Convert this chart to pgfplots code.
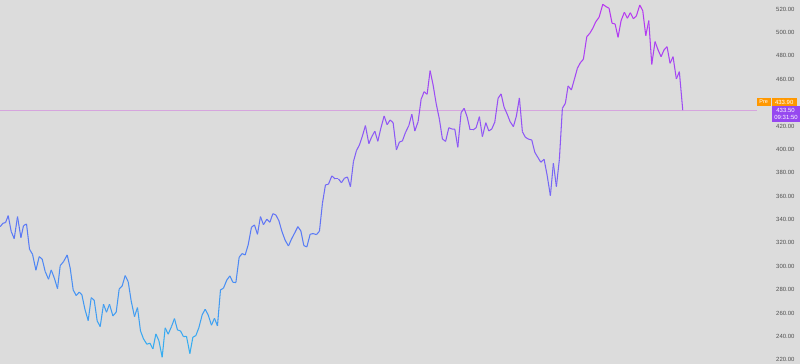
\documentclass[border=0pt]{standalone}
\usepackage{pgfplots}
\pgfplotsset{compat=1.18}
\usepackage{fontspec}
\setmainfont{Liberation Sans}
\definecolor{bg}{RGB}{220,220,220}
\definecolor{tick}{RGB}{80,80,80}
\definecolor{preorange}{RGB}{255,152,0}
\definecolor{lastpurple}{RGB}{150,72,240}
\definecolor{hline}{RGB}{214,165,222}
\begin{document}
\begin{tikzpicture}[x=1bp,y=1bp]
\fill[bg] (0,0) rectangle (800,364);
\begin{axis}[
  at={(0,0)}, anchor=south west,
  scale only axis, width=755bp, height=364bp,
  xmin=0, xmax=755, ymin=216.58, ymax=527.69,
  axis line style={draw=none},
  xtick=\empty,
  ytick={220,240,...,520},
  major tick length=0pt,
  yticklabel pos=right,
  yticklabel style={anchor=west, inner sep=0pt, xshift=21bp, font=\fontsize{6}{7}\selectfont, text=tick},
  /pgf/number format/.cd, fixed, fixed zerofill, precision=2, assume math mode=true,
  /pgfplots/.cd,
  clip=false,
  colormap={grad}{rgb255(0cm)=(50,180,240); rgb255(1cm)=(85,125,245); rgb255(2cm)=(145,85,245); rgb255(3cm)=(185,55,240)},
  point meta min=220, point meta max=520,
]
\addplot[hline, line width=0.45pt, forget plot] coordinates {(0,433.5) (757,433.5)};
\addplot[mesh, point meta=y, line width=1.05pt, line join=round] coordinates {
(0,333.9)(2.7,336.8)(5.3,337.4)(8,343.3)(11,329.7)(14,323.7)(17.3,342.5)(20.7,324.5)(23.3,334.8)(26.3,336.2)
(29.3,314.6)(32.3,310.3)(35.7,296.7)(39,308.3)(42,306.1)(45,295.5)(48.3,289.0)(51,296.9)(54,290.3)(57.3,280.9)
(60,300.6)(63.3,304.0)(67,309.7)(70,298.4)(73,279.8)(76,275.0)(79,277.9)(81.7,275.6)(84.7,263.3)(88,253.6)
(91,273.2)(94,271.0)(97,253.3)(100,248.5)(103.3,267.6)(106.3,260.8)(109.3,267.6)(112.7,257.6)(116,260.8)(119,280.7)
(122,283.3)(125,292.1)(128,286.9)(131,270.4)(134.3,257.0)(137.3,264.7)(140.3,244.8)(143.3,238.0)(146.7,233.4)(149.7,234.3)
(152.7,229.4)(155.7,242.2)(158.7,236.5)(162,222.3)(165,247.4)(168,242.0)(171.3,248.5)(174.3,255.3)(177.3,245.6)(180.3,244.8)
(183.3,239.9)(186.3,240.2)(189.7,225.4)(192.7,239.4)(195.7,240.8)(198.7,247.6)(202,258.5)(205,263.3)(208,258.5)(211.3,249.7)
(214.3,255.6)(217.3,249.1)(220.3,279.8)(223.3,281.3)(226.7,288.4)(229.7,291.8)(232.7,286.4)(235.7,286.1)(239,307.8)(242,310.9)
(245,309.7)(248,318.3)(251.3,333.4)(254.3,335.4)(257.3,327.4)(260.3,342.5)(263.3,335.6)(266.7,340.3)(269.7,337.7)(272.7,345.0)
(275.7,343.9)(278.7,339.1)(281.7,330.0)(285,322.3)(288.3,317.4)(291.3,323.2)(294.7,328.8)(297.7,333.9)(300.7,330.3)(303.7,317.7)
(306.7,316.6)(310,327.4)(313,328.0)(316.3,327.1)(319.3,330.0)(322.3,353.9)(325.3,369.6)(328.3,370.2)(331.7,377.3)(335,374.7)
(338.3,374.7)(341.3,371.5)(344.3,375.3)(347.3,376.4)(350.3,368.1)(353.3,389.5)(356.3,398.9)(359.3,403.8)(362.3,411.5)(365.3,420.3)
(368.7,404.9)(371.7,410.9)(374.7,415.5)(377.7,406.9)(380.7,418.0)(384,428.5)(387,421.1)(390,425.1)(393,422.8)(396.3,399.5)
(399.3,406.3)(402.3,407.2)(405.3,414.3)(408.7,420.3)(411.7,430.0)(414.7,415.7)(418,423.7)(421,442.8)(424,449.3)(427,447.1)
(430,467.3)(433,455.0)(436,439.4)(439.3,425.7)(442.3,408.9)(445.5,406.8)(448.7,418.5)(451.7,417.4)(454.7,417.2)(457.7,401.8)
(461,431.4)(464,435.1)(467,427.9)(470,416.6)(473,416.6)(476,418.5)(479.3,427.9)(482.3,410.9)(485.7,422.8)(488.7,415.7)
(491.7,417.4)(494.7,423.4)(498,443.7)(501,447.4)(504,436.0)(507,430.3)(510,423.7)(513.3,419.4)(516.3,428.5)(519.3,443.9)
(522.3,415.1)(525.3,410.3)(528.7,408.6)(531.7,408.0)(534.7,397.5)(537.7,393.2)(540.7,389.0)(544,391.5)(547,378.1)(550.3,360.4)
(553.3,388.1)(556.3,368.1)(559.3,391.5)(562.3,435.1)(565.3,439.4)(568,454.2)(571.3,450.8)(574.3,459.9)(577.3,469.3)(580.3,474.1)
(583.3,477.0)(586.7,496.3)(589.7,499.2)(592.7,503.5)(595.7,509.1)(599,512.9)(602.7,524.0)(606,522.0)(609,520.6)(612,507.8)
(615,507.2)(618,495.8)(621,510.0)(624.3,517.2)(627.3,512.1)(630.3,516.8)(633.3,511.7)(636.3,514.0)(639.7,523.4)(642.7,518.5)
(645.7,497.2)(648.7,510.0)(651.7,472.7)(655,492.1)(658,485.0)(661,479.2)(664,485.0)(667,487.8)(670,473.6)(673,479.2)
(676.3,460.2)(679.3,466.4)(682.7,433.5)
};
\end{axis}
\fill[preorange] (757,258) rectangle (770.5,266);
\fill[preorange] (771.5,258) rectangle (797,266);
\node[text=white, font=\fontsize{5.5}{6}\selectfont, inner sep=0pt] at (763.7,262) {Pre};
\node[text=white, font=\fontsize{6}{6}\selectfont, inner sep=0pt] at (784.2,262) {433.90};
\fill[lastpurple] (772,242.3) rectangle (800,257.5);
\node[text=white, font=\fontsize{6}{6}\selectfont, inner sep=0pt] at (785.5,253.3) {433.50};
\node[text=white, font=\fontsize{6}{6}\selectfont, inner sep=0pt] at (786,246.3) {09:31:50};
\end{tikzpicture}
\end{document}
